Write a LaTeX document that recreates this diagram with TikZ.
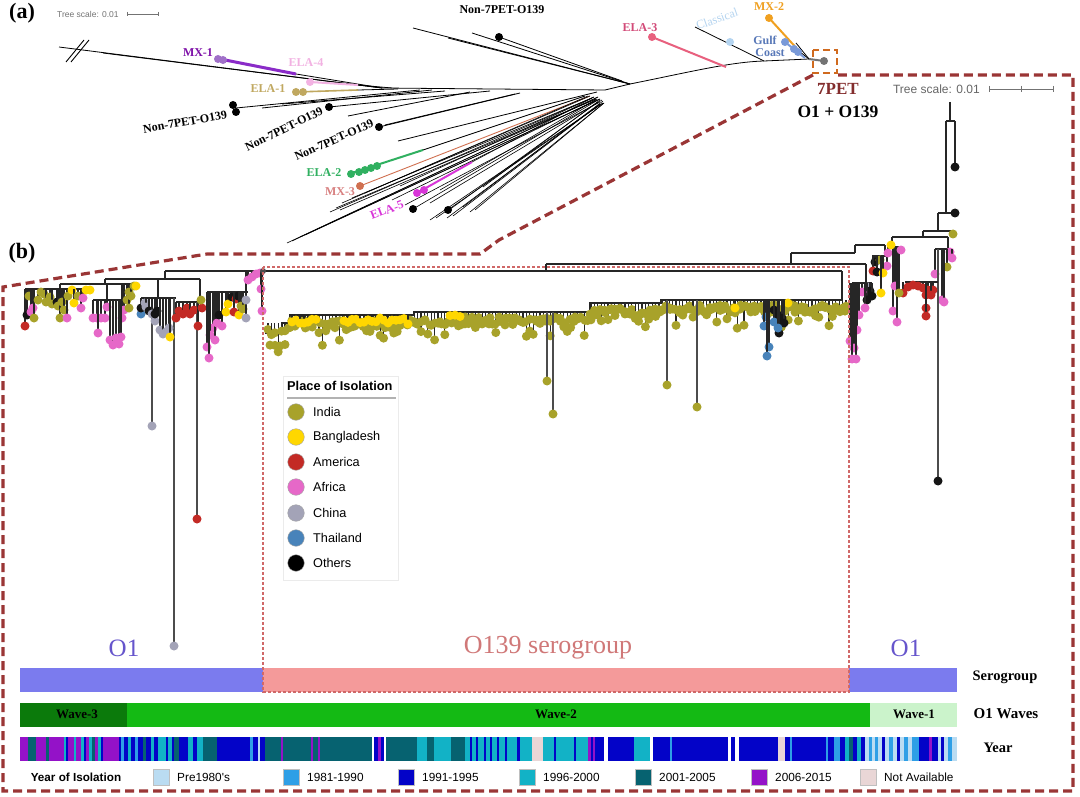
\documentclass[tikz,border=0pt]{standalone}
\usepackage{fontspec}
\setmainfont{Liberation Serif}
\newfontfamily\lsans{Liberation Sans}
\definecolor{cIndia}{HTML}{A8A22A}
\definecolor{cBang}{HTML}{FFD700}
\definecolor{cAmer}{HTML}{C32A25}
\definecolor{cAfr}{HTML}{E668C8}
\definecolor{cChina}{HTML}{A3A3B7}
\definecolor{cThai}{HTML}{4883BA}
\definecolor{cOth}{HTML}{151515}
\definecolor{cDash}{HTML}{9A3535}
\definecolor{cBox}{HTML}{D06A1E}
\definecolor{cPinkD}{HTML}{D06868}
\definecolor{y80}{HTML}{BADCF2}
\definecolor{y81}{HTML}{2E9FE6}
\definecolor{y91}{HTML}{0303C8}
\definecolor{y96}{HTML}{12B2C6}
\definecolor{y01}{HTML}{066270}
\definecolor{y06}{HTML}{9412C8}
\definecolor{yNA}{HTML}{E9D6D6}
\definecolor{sBlue}{HTML}{7B7BEE}
\definecolor{sPink}{HTML}{F49A9A}
\definecolor{wDark}{HTML}{0B7A0B}
\definecolor{wMid}{HTML}{14BA14}
\definecolor{wLight}{HTML}{CBF3CB}
\definecolor{cMXa}{HTML}{7E10A8}
\definecolor{cMXal}{HTML}{8A2BC8}
\definecolor{cMXad}{HTML}{A070C8}
\definecolor{cELAd}{HTML}{F2B2E2}
\definecolor{cELAa}{HTML}{C0A860}
\definecolor{cELAb}{HTML}{30B060}
\definecolor{cMXc}{HTML}{D07050}
\definecolor{cMXcl}{HTML}{D88080}
\definecolor{cELAe}{HTML}{D835D8}
\definecolor{cELAc}{HTML}{E8607E}
\definecolor{cELAcl}{HTML}{D24A78}
\definecolor{cClass}{HTML}{B4D4F0}
\definecolor{cMXb}{HTML}{F0A020}
\definecolor{cGulf}{HTML}{5878B8}
\definecolor{cGulfd}{HTML}{7A9AD8}
\definecolor{cSerO}{HTML}{6655CC}
\definecolor{cSerP}{HTML}{D07878}
\newcommand\fsz[1]{\fontsize{#1}{#1}\selectfont}
\newcommand\lfx[4]{\draw[br] (#1,#2) -- (#1,#3); \fill[#4] (#1,#3) circle[radius=4.5pt];}
\newcommand\dtx[3]{\fill[#3] (#1,#2) circle[radius=4.5pt];}
\newcommand\adot[3]{\fill[#3] (#1,#2) circle[radius=4pt];}
\begin{document}
\begin{tikzpicture}[x=1pt,y=-1pt,
  tl/.style={line width=0.8pt, draw=black},
  fl/.style={line width=0.6pt, draw=black},
  br/.style={line width=1.1pt, draw=black!85},
  pend/.style={line width=1.5pt, draw=black!70},
  alab/.style={font=\bfseries\fsz{12}, inner sep=0pt},
  dashbox/.style={draw=cDash, line width=3.2pt, dash pattern=on 9pt off 5pt},
  legt/.style={font=\lsans\fsz{12.7}, anchor=west, inner sep=0pt},
  ylegt/.style={font=\lsans\fsz{11.8}, anchor=west, inner sep=0pt},
  ybox/.style={draw=black!25, line width=0.4pt},
  barlab/.style={font=\bfseries\fsz{14.5}, inner sep=0pt},
  wavelab/.style={font=\bfseries\fsz{13}, inner sep=0pt}]
\useasboundingbox (0,0) rectangle (1080,797);
\fill[white] (0,0) rectangle (1080,797);

% ================= panel (a) =================
\node[font=\bfseries\fsz{22}, inner sep=0pt] (pa) at (22,13) {(a)};
\node[font=\lsans\fsz{8.5}, text=black!55, anchor=west, inner sep=0pt] (tsa) at (57,14) {Tree scale: 0.01};
\draw[black!55, line width=0.6pt] (127,14) -- (158,14) (127,12) -- (127,16) (158,12) -- (158,16);

% break mark
\draw[line width=0.9pt] (66,62) -- (84,40) (71,62) -- (89,40);
% left part
\draw[tl] (59,47) -- (382,88);
\draw[tl] (103,53) -- (382,88);
\draw[tl] (382,88) -- (605,90);
\draw[tl] (296,74) -- (382,88);
\draw[line width=3pt, cMXal] (220,59) -- (296,74);
\adot{218}{59}{cMXad}\adot{223}{60}{cMXad}
\draw[line width=2pt, cELAd] (310,82) -- (358,85); \draw[tl] (358,85) -- (392,88);
\adot{310}{82}{cELAd}
\draw[line width=1.6pt, cELAa] (296,92) -- (358,90); \draw[tl] (358,90) -- (398,89);
\adot{296}{92}{cELAa}\adot{303}{92}{cELAa}
\draw[tl] (236,108) -- (420,90);
\draw[tl] (262,108) -- (432,90);
\draw[tl] (282,104) -- (445,91);
\draw[tl] (329,107) -- (490,91);
\draw[tl] (348,116) -- (470,92);
\draw[tl] (379,127) -- (520,93);
\draw[tl] (385,125) -- (515,94);
\draw[tl] (398,141) -- (597,92);
\draw[line width=2pt, cELAb] (352,173) -- (423,150); \draw[tl] (423,150) -- (585,96);
\foreach \a/\b in {351/174, 359/172, 365/170, 371/168, 377/166}{\adot{\a}{\b}{cELAb}}
\draw[line width=0.9pt, cMXc] (360,186) -- (590,96);
\adot{360}{186}{cMXc}
\draw[line width=2pt, cELAe] (417,193) -- (472,162); \draw[fl] (472,162) -- (592,98);
\adot{417}{193}{cELAe}\adot{424}{190}{cELAe}
\foreach \a/\b/\h/\k in {287/243/598/97, 300/237/600/99, 330/212/594/97, 336/208/596/99, 342/203/590/96, 352/198/592/98, 365/193/588/96, 392/200/596/100, 405/205/600/102, 413/209/598/100, 430/203/602/100, 430/220/603/103, 447/218/600/104, 449/210/598/102, 463/207/603/101, 483/187/600/100, 470/212/604/103, 400/186/594/97, 440/190/597/99}
 {\draw[fl] (\a,\b) -- (\h,\k);}
\foreach \a/\b/\h/\k in {292/241/598/97, 305/235/600/99, 340/210/596/99, 436/218/603/103, 453/216/600/104, 475/210/604/103}
 {\draw[fl] (\a,\b) -- (\h,\k);}
\adot{233}{105}{black}\adot{236}{112}{black}\adot{329}{107}{black}\adot{379}{127}{black}
\adot{413}{209}{black}\adot{448}{210}{black}
% top group
\draw[tl] (413,28) -- (630,84);
\draw[tl] (448,38) -- (630,84);
\draw[tl] (472,33) -- (630,84);
\draw[tl] (499,37) -- (622,81);
\adot{499}{37}{black}
% backbone to 7PET
\draw[tl] (605,90) -- (630,84) .. controls (690,72) and (730,62) .. (764,61) -- (809,59);
\draw[line width=2pt, cELAc] (652,37) -- (726,67);
\adot{652}{37}{cELAc}
\draw[tl] (695,27) -- (764,61);
\adot{730}{42}{cClass}
\draw[line width=2pt, cMXb] (769,18) -- (800,52); \draw[tl] (800,52) -- (809,59);
\adot{769}{18}{cMXb}
\draw[tl] (796,43) -- (809,59);
\draw[line width=2pt, cGulfd] (785,42) -- (805,58);
\adot{785}{42}{cGulfd}\adot{794}{49}{cGulfd}\adot{798}{52}{cGulfd}
\draw[line width=2pt, black!55] (809,59) -- (824,61);
\adot{824}{61}{black!55}
\draw[cBox, line width=2.5pt, dash pattern=on 7pt off 4pt] (813,50) rectangle (837,73);
% labels (a)
\node[alab, text=cMXa] (lmx1) at (198,53) {MX-1};
\node[alab, text=cELAd] (lela4) at (306,63) {ELA-4};
\node[alab, text=cELAa] (lela1) at (268,89) {ELA-1};
\node[alab, rotate=10] (ln1) at (185,122) {Non-7PET-O139};
\node[alab, rotate=26] (ln2) at (284,129) {Non-7PET-O139};
\node[alab, rotate=24] (ln3) at (334,140) {Non-7PET-O139};
\node[alab] (ln0) at (502,10) {Non-7PET-O139};
\node[alab, text=cELAb] (lela2) at (324,173) {ELA-2};
\node[alab, text=cMXcl] (lmx3) at (340,192) {MX-3};
\node[alab, text=cELAe, rotate=21] (lela5) at (387,210) {ELA-5};
\node[alab, text=cELAcl] (lela3) at (640,28) {ELA-3};
\node[alab, text=cClass, font=\fsz{12}, rotate=19] (lcl) at (717,19) {Classical};
\node[alab, text=cMXb] (lmx2) at (769,7) {MX-2};
\node[alab, text=cGulf] (lg1) at (765,40) {Gulf};
\node[alab, text=cGulf] (lg2) at (770,53) {Coast};
\node[font=\bfseries\fsz{17}, text=cDash!85!black, inner sep=0pt] (l7pet) at (838,89) {7PET};
\node[font=\bfseries\fsz{17.5}, inner sep=0pt] (lo1) at (838,112) {O1 + O139};

% zoom outline
\draw[dashbox] (813,75) -- (499,240) -- (480,254) -- (207,254) -- (3,287) -- (3,791) -- (1073,791) -- (1073,75) -- (838,75);

% ================= panel (b) =================
\node[font=\bfseries\fsz{22}, inner sep=0pt] (pb) at (22,253) {(b)};
\node[font=\lsans\fsz{12}, text=black!60, anchor=east, inner sep=0pt] (tsb) at (980,89) {Tree scale: 0.01};
\draw[black!55, line width=0.7pt] (989,89) -- (1053,89) (989,86) -- (989,92) (1021,86) -- (1021,92) (1053,86) -- (1053,92);

% bars
\fill[sBlue] (20,668) rectangle (263,692);
\fill[sPink] (263,668) rectangle (849,692);
\fill[sBlue] (849,668) rectangle (957,692);
\fill[wDark] (20,703) rectangle (127,727);
\fill[wMid] (127,703) rectangle (870,727);
\fill[wLight] (870,703) rectangle (957,727);
\foreach \a/\b/\c in {20/28/y06, 28/36/y01, 36/46/y06, 46/49/y01, 49/64/y06, 64/66/y96, 66/68/y91, 68/74/y06, 74/76/y96, 76/81/y06, 81/84/y96, 84/86/y91, 86/89/y06, 89/92/y96, 92/95/y01, 95/98/y06, 98/101/y96, 101/103/y91, 103/119/y06, 119/121/y91, 121/124/y81, 124/128/y91, 128/131/y96, 131/135/y91, 135/138/y81, 138/143/y91, 143/146/y01, 146/151/y91, 151/154/y96, 154/158/y91, 158/166/y96, 166/168/y91, 168/172/y96, 172/174/y91, 174/179/y01, 179/188/y91, 188/193/y96, 193/197/y91, 197/203/y96, 203/217/y01, 217/250/y91, 250/253/y81, 253/258/y91, 258/260/y80, 260/265/y91, 265/281/y01, 281/283/y06, 283/311/y01, 311/313/y06, 313/318/y01, 318/320/y06, 320/372/y01, 374/378/y91, 378/381/y06, 381/384/y91, 386/417/y01, 417/427/y96, 427/434/y01, 434/451/y96, 451/465/y01, 465/470/y96, 470/472/y91, 472/476/y96, 476/478/y91, 478/484/y96, 484/486/y91, 486/490/y96, 490/492/y91, 492/497/y96, 497/499/y91, 499/505/y96, 505/507/y91, 507/517/y96, 517/520/y91, 520/532/y96, 532/543/yNA, 543/554/y96, 554/556/y91, 556/574/y96, 574/576/y91, 576/588/y96, 588/591/y06, 591/593/y91, 593/595/y06, 595/604/y91, 608/634/y91, 634/650/y96, 653/670/y91, 670/672/y81, 672/728/y91, 731/735/y91, 739/778/y91, 778/785/yNA, 785/790/y91, 790/792/y81, 792/826/y91, 826/828/y81, 828/834/y91, 834/840/y81, 840/845/y91, 845/849/y96, 849/853/y01, 853/857/y91, 857/861/y96, 861/865/y91, 865/869/y80, 869/872/y81, 872/875/y80, 875/878/y81, 878/882/y80, 882/885/y91, 885/889/y80, 889/893/y81, 893/897/y80, 897/900/y91, 900/904/y80, 904/908/y81, 908/912/y80, 912/919/y81, 919/929/y91, 929/932/y06, 932/938/y91, 938/941/y80, 941/944/y91, 944/948/y80, 948/952/y81, 952/957/y80}
 {\fill[\c] (\a,737) rectangle (\b,761);}
\node[wavelab] (w3) at (77,714) {Wave-3};
\node[wavelab] (w2) at (556,714) {Wave-2};
\node[wavelab] (w1) at (914,714) {Wave-1};
\node[barlab] (lsg) at (1005,677) {Serogroup};
\node[barlab, font=\bfseries\fsz{15}] (lwv) at (1006,714) {O1 Waves};
\node[barlab] (lyr) at (998,748) {Year};
\node[font=\fsz{25}, text=cSerO, inner sep=0pt] (so1a) at (124,648) {O1};
\node[font=\fsz{25}, text=cSerO, inner sep=0pt] (so1b) at (906,648) {O1};
\node[font=\fsz{26}, text=cSerP, inner sep=0pt] (so139) at (548,648) {O139 serogroup};
% year legend
\node[font=\lsans\bfseries\fsz{11.7}, inner sep=0pt] (yli) at (76,777) {Year of Isolation};
\foreach \bx/\c/\t/\n in {153/y80/{Pre1980's}/a, 283/y81/{1981-1990}/b, 398/y91/{1991-1995}/c, 519/y96/{1996-2000}/d, 635/y01/{2001-2005}/e, 751/y06/{2006-2015}/f, 860/yNA/{Not Available}/g}
 {\filldraw[fill=\c, ybox] (\bx,769) rectangle ++(16,16);
  \node[ylegt] (yl\n) at (\bx+24,777) {\t};}

% place legend
\draw[black!8, line width=0.6pt] (283,376) rectangle (398,580);
\node[font=\lsans\bfseries\fsz{12.8}, anchor=west, inner sep=0pt] (plt) at (287,386) {Place of Isolation};
\draw[black!30, line width=1.5pt] (287,398) -- (396,398);
\foreach \yy/\c/\t/\n in {412/cIndia/India/a, 437/cBang/Bangladesh/b, 462/cAmer/America/c, 487/cAfr/Africa/d, 513/cChina/China/e, 538/cThai/Thailand/f, 563/black/Others/g}
 {\filldraw[fill=\c, draw=black!35, line width=0.4pt] (296,\yy) circle[radius=8.3pt];
  \node[legt] (pl\n) at (313,\yy) {\t};}

% ---------- tree (b): left O1 cluster ----------
\draw[br] (165,271) -- (546,271);
\draw[br] (165,271) -- (165,279);
\draw[br] (105,279) -- (200,279);
\draw[br] (105,279) -- (105,284);
\draw[br] (60,284) -- (136,284);
\draw[br] (60,284) -- (60,289);
\draw[br] (25,289) -- (92,289);
\draw[br] (107,284) -- (107,300);
\draw[br] (93,300) -- (121,300);
\draw[br] (158,279) -- (158,298);
\draw[br] (141,298) -- (176,298);
\draw[br] (200,279) -- (200,302);
\draw[br] (176,302) -- (203,302);
\draw[br] (246,271) -- (246,292);
\draw[br] (207,292) -- (248,292);
\draw[pend] (152,298) -- (152,426); \dtx{152}{426}{cChina}
\draw[pend] (174,298) -- (174,646); \dtx{174}{646}{cChina}
\draw[pend] (197,302) -- (197,519); \fill[cAmer] (197,519) circle[radius=4.5pt];
\foreach \x/\b/\c in {25/326/cAmer, 27/315/cOth, 29/296/cIndia, 31/312/cAfr, 33/308/cAfr, 34/318/cIndia, 38/300/cIndia, 41/292/cIndia, 44/294/cIndia, 46/302/cIndia, 50/297/cIndia, 52/304/cIndia, 57/302/cOth, 58/306/cIndia, 60/318/cIndia, 62/302/cIndia, 64/310/cIndia, 67/318/cAfr, 68/296/cIndia, 72/290/cBang, 74/303/cBang, 78/296/cIndia, 81/308/cAfr, 83/298/cAfr, 86/290/cBang, 90/290/cBang}
 {\lfx{\x}{289}{\b}{\c}}
\foreach \x/\b/\c in {122/318/cAfr, 124/310/cAfr, 127/300/cIndia, 129/308/cIndia, 129/292/cIndia, 131/296/cIndia, 134/286/cIndia, 136/286/cBang}
 {\lfx{\x}{284}{\b}{\c}}
\foreach \x/\b in {93/318, 97/318, 101/318, 105/318, 98/333, 107/307, 110/340, 113/345, 116/338, 119/344, 121/337}
 {\lfx{\x}{300}{\b}{cAfr}}
\foreach \x/\b/\c in {141/314/cThai, 141/308/cOth, 145/303/cChina, 146/307/cChina, 149/311/cOth, 152/314/cChina, 155/321/cChina, 155/314/cOth, 157/311/cOth, 160/330/cChina, 163/334/cChina, 166/332/cChina, 169/328/cChina, 170/337/cBang}
 {\lfx{\x}{298}{\b}{\c}}
\foreach \x/\b in {176/318, 179/311, 183/314, 187/308, 190/314, 194/310, 198/326, 202/308}
 {\lfx{\x}{302}{\b}{cAmer}}
\dtx{201}{300}{cIndia}
\foreach \x/\b/\c in {213/328/cAfr, 210/335/cAfr, 207/347/cAfr, 209/358/cAfr, 215/340/cAfr, 217/323/cAfr, 222/326/cAfr, 219/315/cOth, 226/312/cBang, 228/304/cBang, 232/297/cOth, 236/299/cAmer, 238/296/cOth, 234/312/cAmer, 239/315/cBang, 241/306/cIndia, 243/309/cIndia, 246/318/cChina, 246/300/cChina}
 {\lfx{\x}{292}{\b}{\c}}
\foreach \x/\b in {248/280, 252/277, 256/274, 260/273, 261/289, 262/311}
 {\lfx{\x}{271}{\b}{cAfr}}
\fill[black!70] (263,271) circle[radius=3pt];

% ---------- tree (b): O139 cluster ----------
\draw[br] (546,264) -- (546,271);
\draw[br] (546,264) -- (866,264);
\draw[br] (546,271) -- (842,271);
\draw[br] (791,253) -- (791,264);
\draw[br] (791,253) -- (855,253);
\draw[br] (855,245) -- (855,253);
\draw[br] (855,245) -- (885,245);
\draw[br] (842,271) -- (842,300) -- (661,300) -- (661,303) -- (590,303) -- (590,312) -- (414,312) -- (414,315) -- (290,315) -- (290,323) -- (282,323) -- (282,333) -- (265,333);
\pgfmathsetseed{1234}
\foreach \x in {268,271.4,...,848}{
  \pgfmathsetmacro\yb{(\x<290)?323:((\x<414)?315:((\x<590)?312:((\x<661)?303:300)))}
  \pgfmathsetmacro\yd{\yb+5+26*rnd*rnd}
  \draw[br] (\x,\yb) -- (\x,\yd);
  \fill[cIndia] (\x,\yd) circle[radius=4.5pt];
}
\foreach \x in {270,275,...,845}{
  \pgfmathsetmacro\yb{(\x<290)?333:((\x<414)?315:((\x<590)?312:((\x<661)?303:300)))}
  \pgfmathsetmacro\yd{\yb+5+8*rnd}
  \fill[cIndia] (\x,\yd) circle[radius=4.5pt];
}
\foreach \x in {292,296,...,316, 344,348,...,408, 450,455,460}{
  \pgfmathsetmacro\yb{(\x<414)?315:312}
  \pgfmathsetmacro\yd{\yb+3+6*rnd}
  \draw[br] (\x,\yb) -- (\x,\yd);
  \fill[cBang] (\x,\yd) circle[radius=4.5pt];
}
\lfx{735}{300}{308}{cBang}
\lfx{788}{300}{303}{cBang}
\draw[pend] (547,312) -- (547,381); \dtx{547}{381}{cIndia}
\draw[pend] (553,312) -- (553,414); \dtx{553}{414}{cIndia}
\draw[pend] (667,300) -- (667,385); \dtx{667}{385}{cIndia}
\draw[pend] (697,300) -- (697,407); \dtx{697}{407}{cIndia}
\foreach \x/\b/\c in {774/310/cOth, 778/315/cOth, 782/318/cOth, 784/323/cOth, 779/333/cOth, 766/317/cThai, 764/326/cThai, 774/322/cThai, 778/328/cThai, 769/347/cThai, 767/356/cThai}
 {\lfx{\x}{300}{\b}{\c}}

% ---------- tree (b): right O1 part ----------
\draw[br] (866,264) -- (866,283);
\draw[br] (852,283) -- (872,283);
\foreach \x/\b/\c in {868/287/cChina, 870/291/cOth, 867/300/cOth, 872/296/cOth, 862/292/cAfr, 865/308/cAfr, 859/315/cAfr, 854/329/cAfr, 857/330/cAfr, 850/341/cAfr, 854/348/cAfr, 852/359/cAfr, 856/359/cAfr}
 {\lfx{\x}{283}{\b}{\c}}
\draw[br] (885,245) -- (885,256);
\draw[br] (872,256) -- (888,256);
\foreach \x/\b/\c in {875/262/cOth, 880/260/cIndia, 887/266/cAfr, 873/271/cAmer, 877/272/cOth, 883/273/cBang, 881/293/cBang}
 {\lfx{\x}{256}{\b}{\c}}
% column
\draw[br] (950,102) -- (950,121);
\draw[br] (946,121) -- (955,121);
\lfx{955}{121}{167}{cOth}
\draw[br] (946,121) -- (946,213);
\draw[br] (938,213) -- (955,213);
\dtx{955}{213}{cOth}
\draw[br] (938,213) -- (938,231);
\draw[br] (923,231) -- (953,231);
\lfx{953}{231}{234}{cIndia}
\draw[br] (923,231) -- (923,237);
\draw[br] (892,237) -- (948,237);
\draw[br] (948,237) -- (948,249);
\draw[br] (935,249) -- (952,249);
\foreach \x/\b/\c in {950/252/cAfr, 952/258/cAfr, 947/267/cIndia, 942/300/cAfr, 944/302/cAfr, 935/274/cAfr}
 {\lfx{\x}{249}{\b}{\c}}
\draw[pend] (938,249) -- (938,481); \dtx{938}{481}{cOth}
\draw[br] (905,282) -- (938,282);
\foreach \x/\b in {903/293, 908/287, 913/285, 918/286, 923/288, 928/290, 933/290, 931/295, 926/295, 926/308, 926/316}
 {\lfx{\x}{282}{\b}{cAmer}}
\draw[br] (892,237) -- (892,247);
\draw[br] (888,247) -- (900,247);
\foreach \x/\b/\c in {888/253/cAfr, 893/311/cAfr, 895/286/cAfr, 897/322/cAfr, 899/293/cIndia, 901/250/cAfr}
 {\lfx{\x}{247}{\b}{\c}}
\dtx{891}{245}{cBang}

% pink dashed box (drawn on top)
\draw[cPinkD, line width=1.2pt, dash pattern=on 3pt off 2pt] (263,267) rectangle (849,692);
\end{tikzpicture}
\end{document}
